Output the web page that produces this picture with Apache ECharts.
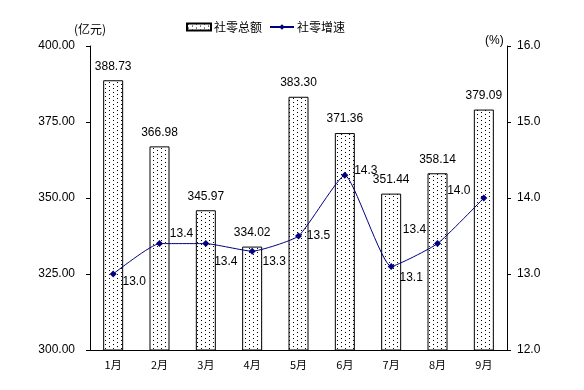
<!DOCTYPE html>
<html><head><meta charset="utf-8">
<script src="https://cdn.jsdelivr.net/npm/echarts@6/dist/echarts.min.js"></script>
<style>html,body{margin:0;padding:0;background:#fff}#c{width:584px;height:390px}</style>
</head><body><div id="c"></div>
<script>
var categories = ['1月','2月','3月','4月','5月','6月','7月','8月','9月'];
var totalSales = [388.73, 366.98, 345.97, 334.02, 383.30, 371.36, 351.44, 358.14, 379.09];
var growthRate = [13.0, 13.4, 13.4, 13.3, 13.5, 14.3, 13.1, 13.4, 14.0];
var leftTicks = {min: 300, max: 400, interval: 25};
var rightTicks = {min: 12, max: 16, interval: 1};
// label placement style for the rate labels (dx, dy)
var rateLabelOffsets = [[21,8],[22,-10],[20,18],[22,10],[20,0],[21,-5],[20,11],[-23,-14],[-25,-7]];

var pc = document.createElement('canvas');
pc.width = 8; pc.height = 4;
var ctx = pc.getContext('2d');
ctx.fillStyle = '#fff'; ctx.fillRect(0,0,8,4);
ctx.fillStyle = '#000';
ctx.fillRect(1,0,1,1); ctx.fillRect(5,2,1,1);

var font = '"Liberation Sans", Arial, sans-serif';
var chart = echarts.init(document.getElementById('c'), null, {renderer:'canvas'});
chart.setOption({
  animation: false,
  backgroundColor: '#fff',
  grid: {left: 90, right: 77, top: 46, bottom: 40},
  legend: {
    left: 181, top: 16, itemWidth: 24, itemHeight: 7, itemGap: 7,
    textStyle: {fontSize: 12, color: '#000', fontFamily: '"Noto Sans CJK SC", sans-serif', padding: [0,0,0,-2]},
    data: [{name: '社零总额', icon: 'rect'}, {name: '社零增速'}]
  },
  graphic: [
    {type: 'text', left: 74, top: 23, style: {text: '(亿元)', font: '12px "Noto Sans CJK SC", sans-serif', fill: '#000'}},
    {type: 'text', left: 485, top: 35, style: {text: '(%)', font: '12px ' + font, fill: '#000'}}
  ],
  xAxis: {
    type: 'category', data: categories,
    axisLine: {lineStyle: {color: '#000', width: 1}},
    axisTick: {inside: true, length: 4, lineStyle: {color: '#000'}},
    axisLabel: {color: '#000', fontSize: 11, margin: 9, fontFamily: '"Noto Sans CJK SC", sans-serif'}
  },
  yAxis: [{
    type: 'value', min: leftTicks.min, max: leftTicks.max, interval: leftTicks.interval,
    axisLine: {show: true, lineStyle: {color: '#000'}},
    axisTick: {show: true, length: 4, lineStyle: {color: '#000'}},
    splitLine: {show: false},
    axisLabel: {color: '#000', fontSize: 12, margin: 15, fontFamily: font, formatter: function(v){return v.toFixed(2);}}
  }, {
    type: 'value', min: rightTicks.min, max: rightTicks.max, interval: rightTicks.interval,
    axisLine: {show: true, lineStyle: {color: '#000'}},
    axisTick: {show: true, length: 4, lineStyle: {color: '#000'}},
    splitLine: {show: false},
    axisLabel: {color: '#000', fontSize: 12, margin: 10, fontFamily: font, formatter: function(v){return v.toFixed(1);}}
  }],
  series: [{
    name: '社零总额', type: 'bar', data: totalSales, barWidth: 20, yAxisIndex: 0,
    itemStyle: {color: {image: pc, repeat: 'repeat'}, borderColor: '#000', borderWidth: 1},
    label: {show: true, position: 'top', distance: 8, color: '#000', fontSize: 12, fontFamily: font,
      formatter: function(p){return p.value.toFixed(2);}}
  }, {
    name: '社零增速', type: 'line', yAxisIndex: 1, smooth: 0.15,
    data: growthRate.map(function(v,i){return {value: v, label: {offset: rateLabelOffsets[i]}};}),
    symbol: 'diamond', symbolSize: 7,
    lineStyle: {color: '#000080', width: 1},
    itemStyle: {color: '#000080'},
    label: {show: true, position: 'inside', color: '#000', fontSize: 12, fontFamily: font,
      formatter: function(p){return p.value.toFixed(1);}}
  }]
});
</script></body></html>
